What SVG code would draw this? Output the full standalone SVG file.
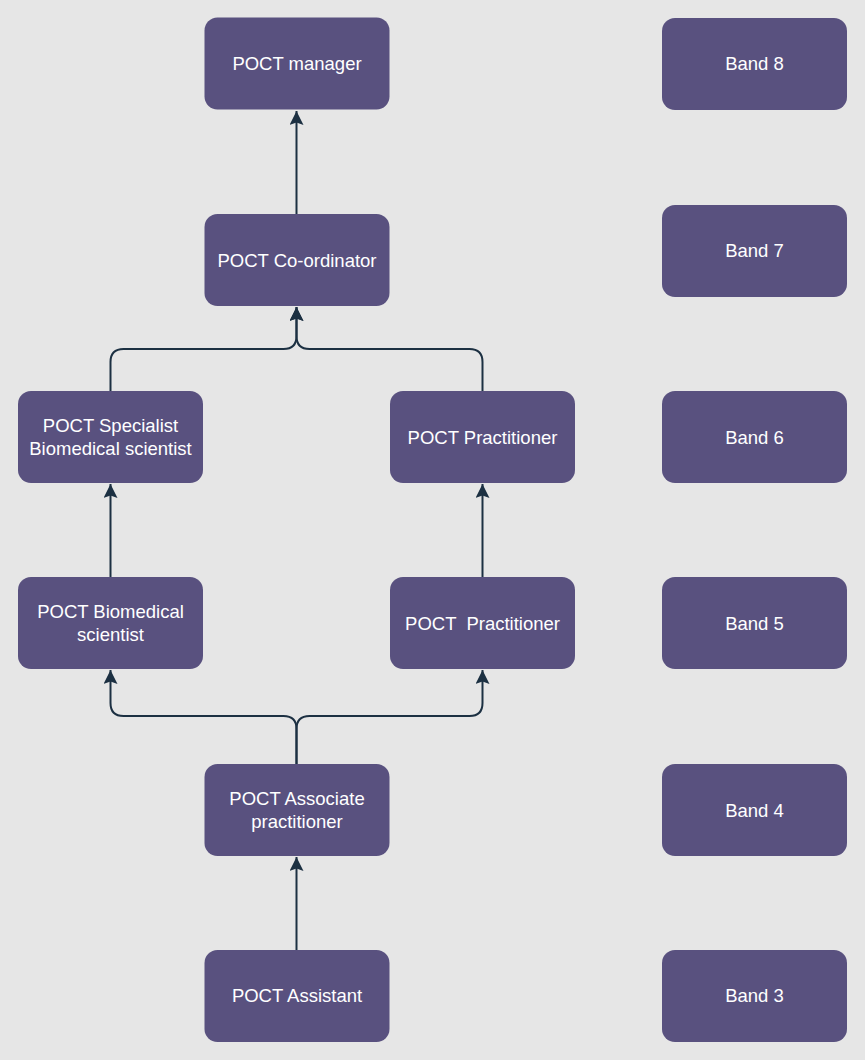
<svg xmlns="http://www.w3.org/2000/svg" width="865" height="1060" viewBox="0 0 865 1060">
<style>
.node rect{fill:#59517f;}
.node text{fill:#ffffff;font-family:"Liberation Sans",Arial,sans-serif;font-size:18.5px;text-anchor:middle;}
.conn path{fill:none;stroke:#1c3042;stroke-width:2;}
</style>
<defs>
<marker id="arr" markerUnits="userSpaceOnUse" markerWidth="16" markerHeight="16" viewBox="0 0 16 16" refX="14" refY="7" orient="auto">
<path d="M0,0 L14,7 L0,14 L2.5,7 Z" fill="#1c3042"/>
</marker>
</defs>
<rect x="0" y="0" width="865" height="1060" fill="#e6e6e6"/>
<g id="connectors" class="conn">
<path d="M296.5,214 V111" marker-end="url(#arr)"/>
<path d="M110.5,391 V362 Q110.5,349 123.5,349 H283.5 Q296.5,349 296.5,336 V307" marker-end="url(#arr)"/>
<path d="M482.5,391 V362 Q482.5,349 469.5,349 H309.5 Q296.5,349 296.5,336 V307" marker-end="url(#arr)"/>
<path d="M110.5,577 V484" marker-end="url(#arr)"/>
<path d="M482.5,577 V484" marker-end="url(#arr)"/>
<path d="M296.5,764 V729 Q296.5,716 283.5,716 H123.5 Q110.5,716 110.5,703 V670" marker-end="url(#arr)"/>
<path d="M296.5,764 V729 Q296.5,716 309.5,716 H469.5 Q482.5,716 482.5,703 V670" marker-end="url(#arr)"/>
<path d="M296.5,950 V857" marker-end="url(#arr)"/>
</g>
<g id="n-manager" class="node"><rect x="204.5" y="17.5" width="185" height="92" rx="13"/><text x="297" y="70">POCT manager</text></g>
<g id="n-coordinator" class="node"><rect x="204.5" y="214" width="185" height="92" rx="13"/><text x="297" y="266.5">POCT Co-ordinator</text></g>
<g id="n-specialist" class="node"><rect x="18" y="391" width="185" height="92" rx="13"/><text x="110.5" y="431.5">POCT Specialist</text><text x="110.5" y="455">Biomedical scientist</text></g>
<g id="n-practitioner6" class="node"><rect x="390" y="391" width="185" height="92" rx="13"/><text x="482.5" y="443.5">POCT Practitioner</text></g>
<g id="n-biomedical" class="node"><rect x="18" y="577" width="185" height="92" rx="13"/><text x="110.5" y="617.5">POCT Biomedical</text><text x="110.5" y="641">scientist</text></g>
<g id="n-practitioner5" class="node"><rect x="390" y="577" width="185" height="92" rx="13"/><text x="482.5" y="629.5" xml:space="preserve">POCT  Practitioner</text></g>
<g id="n-associate" class="node"><rect x="204.5" y="764" width="185" height="92" rx="13"/><text x="297" y="804.5">POCT Associate</text><text x="297" y="828">practitioner</text></g>
<g id="n-assistant" class="node"><rect x="204.5" y="950" width="185" height="92" rx="13"/><text x="297" y="1001.5">POCT Assistant</text></g>
<g id="n-band8" class="node"><rect x="662" y="18" width="185" height="92" rx="13"/><text x="754.5" y="70">Band 8</text></g>
<g id="n-band7" class="node"><rect x="662" y="205" width="185" height="92" rx="13"/><text x="754.5" y="257">Band 7</text></g>
<g id="n-band6" class="node"><rect x="662" y="391" width="185" height="92" rx="13"/><text x="754.5" y="443.5">Band 6</text></g>
<g id="n-band5" class="node"><rect x="662" y="577" width="185" height="92" rx="13"/><text x="754.5" y="629.5">Band 5</text></g>
<g id="n-band4" class="node"><rect x="662" y="764" width="185" height="92" rx="13"/><text x="754.5" y="816.5">Band 4</text></g>
<g id="n-band3" class="node"><rect x="662" y="950" width="185" height="92" rx="13"/><text x="754.5" y="1002">Band 3</text></g>
</svg>
